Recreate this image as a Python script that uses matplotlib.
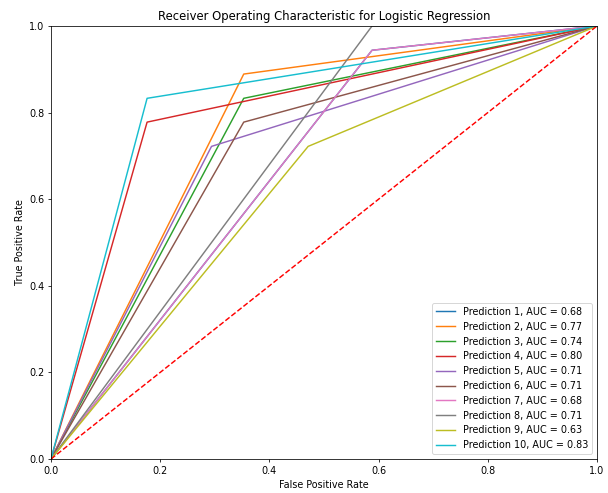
import matplotlib
matplotlib.use("Agg")
import matplotlib.pyplot as plt

# ROC points for each prediction (fpr, tpr)
FPR = [
    [0.0, 0.588, 1.0],
    [0.0, 0.353, 1.0],
    [0.0, 0.353, 1.0],
    [0.0, 0.176, 1.0],
    [0.0, 0.294, 1.0],
    [0.0, 0.353, 1.0],
    [0.0, 0.588, 1.0],
    [0.0, 0.588, 1.0],
    [0.0, 0.471, 1.0],
    [0.0, 0.176, 1.0],
]
TPR = [
    [0.0, 0.944, 1.0],
    [0.0, 0.889, 1.0],
    [0.0, 0.833, 1.0],
    [0.0, 0.778, 1.0],
    [0.0, 0.722, 1.0],
    [0.0, 0.778, 1.0],
    [0.0, 0.944, 1.0],
    [0.0, 1.0, 1.0],
    [0.0, 0.722, 1.0],
    [0.0, 0.833, 1.0],
]
AUC = [0.68, 0.77, 0.74, 0.80, 0.71, 0.71, 0.68, 0.71, 0.63, 0.83]

DPI = 69.5
fig = plt.figure(figsize=(608 / DPI, 493 / DPI), dpi=DPI)
ax = fig.add_axes([51 / 608, 34 / 493, 546 / 608, 433 / 493])

for i in range(len(AUC)):
    ax.plot(FPR[i], TPR[i], label="Prediction %d, AUC = %.2f" % (i + 1, AUC[i]))

ax.plot([0, 1], [0, 1], 'r--')
ax.set_xlim(0, 1)
ax.set_ylim(0, 1)
ax.set_xlabel("False Positive Rate")
ax.set_ylabel("True Positive Rate")
ax.set_title("Receiver Operating Characteristic for Logistic Regression")
ax.legend(loc="lower right")

fig.savefig("out.png", dpi=DPI)
